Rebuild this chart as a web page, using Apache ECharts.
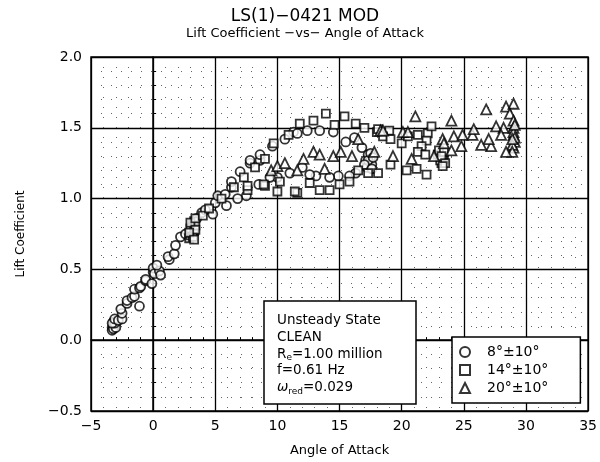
<!DOCTYPE html>
<html>
<head>
<meta charset="utf-8">
<script src="https://cdn.jsdelivr.net/npm/echarts@6/dist/echarts.min.js"></script>
<style>
  html, body { margin: 0; padding: 0; background: #fff; }
  #chart { width: 600px; height: 462px; }
</style>
</head>
<body>
<div id="chart"></div>
<script>
// 坐标轴刻度
const xTicks = [-5, 0, 5, 10, 15, 20, 25, 30, 35];
const yTicks = [-0.5, 0.0, 0.5, 1.0, 1.5, 2.0];

// 图例名称
const seriesNames = ["8°±10°", "14°±10°", "20°±10°"];

// 8°±10° (圆点) [攻角, 升力系数]
const circles8 = [
  [-3.3, 0.09], [-3.2, 0.11], [-3.1, 0.10], [-3.2, 0.13], [-3.0, 0.12],
  [-3.3, 0.07], [-3.2, 0.08], [-3.0, 0.09], [-3.1, 0.12], [-3.3, 0.12],
  [-3.1, 0.15], [-2.8, 0.14], [-2.5, 0.15], [-2.5, 0.19], [-2.6, 0.22],
  [-2.1, 0.26], [-2.1, 0.28], [-1.7, 0.30], [-1.5, 0.31], [-1.1, 0.24],
  [-1.5, 0.36], [-1.1, 0.37], [-1.0, 0.38], [-0.6, 0.42], [-0.6, 0.43],
  [-0.1, 0.40], [0.0, 0.48], [0.0, 0.51], [0.1, 0.47], [0.5, 0.49],
  [0.6, 0.46], [0.3, 0.53], [1.3, 0.57], [1.2, 0.59], [1.7, 0.61],
  [1.8, 0.67], [2.2, 0.73], [2.6, 0.75], [3.5, 0.86], [3.9, 0.90],
  [4.2, 0.92], [5.0, 0.97], [5.2, 1.02], [5.8, 1.03], [6.3, 1.08],
  [6.3, 1.12], [7.0, 1.19], [7.8, 1.25], [8.6, 1.27], [7.8, 1.27],
  [8.6, 1.31], [9.6, 1.37], [10.6, 1.42], [11.3, 1.47], [11.6, 1.46],
  [12.4, 1.48], [13.4, 1.48], [14.5, 1.47], [15.5, 1.40], [16.2, 1.43],
  [16.8, 1.36], [17.1, 1.27], [17.3, 1.31], [17.4, 1.25], [17.2, 1.22],
  [17.5, 1.28], [17.6, 1.24], [17.3, 1.27], [17.5, 1.32], [17.7, 1.29],
  [17.0, 1.24], [17.6, 1.21], [16.3, 1.18], [15.8, 1.16],
  [14.9, 1.16], [14.2, 1.15], [13.1, 1.16], [12.6, 1.17], [12.0, 1.22],
  [11.0, 1.18], [10.0, 1.15], [9.4, 1.15], [8.5, 1.10], [7.5, 1.02],
  [6.8, 1.00], [5.9, 0.95], [4.8, 0.89]
];

// 14°±10° (方块)
const squares14 = [
  [2.9, 0.72], [3.0, 0.74], [3.1, 0.76], [3.1, 0.78], [3.2, 0.80],
  [3.2, 0.82], [3.3, 0.84], [3.0, 0.79], [3.3, 0.77], [3.2, 0.73],
  [3.4, 0.81], [3.0, 0.83], [3.4, 0.78], [2.9, 0.76], [3.3, 0.71],
  [3.4, 0.86], [4.0, 0.88], [4.5, 0.93], [5.5, 1.00], [6.5, 1.08],
  [7.3, 1.15], [8.2, 1.22], [9.0, 1.28], [9.7, 1.39], [10.9, 1.45],
  [11.8, 1.53], [12.9, 1.55], [13.9, 1.60], [15.4, 1.58], [14.6, 1.52],
  [16.3, 1.53], [17.0, 1.50], [18.0, 1.47], [18.1, 1.49], [19.0, 1.48],
  [18.5, 1.44], [19.1, 1.42], [20.0, 1.39], [20.5, 1.44], [21.3, 1.45],
  [22.1, 1.46], [22.4, 1.51], [22.0, 1.41], [21.6, 1.37], [21.3, 1.33],
  [21.9, 1.31], [22.9, 1.31], [23.2, 1.25], [23.4, 1.28], [23.0, 1.34],
  [23.3, 1.29], [23.1, 1.27], [23.4, 1.33], [23.2, 1.30], [23.5, 1.25],
  [23.3, 1.23], [22.0, 1.17], [21.2, 1.21], [20.4, 1.20],
  [19.1, 1.24], [18.1, 1.18], [17.3, 1.18], [16.5, 1.20], [15.8, 1.12],
  [15.0, 1.10], [14.2, 1.06], [13.4, 1.06], [12.6, 1.11], [11.6, 1.04],
  [11.4, 1.05], [10.2, 1.12], [10.0, 1.05], [9.0, 1.09], [8.9, 1.10],
  [7.6, 1.06], [7.6, 1.09]
];

// 20°±10° (三角)
const triangles20 = [
  [9.5, 1.20], [10.0, 1.23], [10.6, 1.25], [11.6, 1.20], [12.1, 1.28],
  [12.9, 1.33], [13.4, 1.31], [13.8, 1.21], [14.5, 1.30], [15.1, 1.33],
  [16.5, 1.42], [18.3, 1.48], [18.5, 1.48], [20.1, 1.47], [20.5, 1.47],
  [21.1, 1.58], [23.3, 1.42], [23.4, 1.39], [24.0, 1.55], [24.2, 1.44],
  [24.9, 1.45], [25.7, 1.45], [25.8, 1.49], [26.8, 1.63], [27.6, 1.51],
  [28.2, 1.50], [28.4, 1.65], [29.0, 1.67], [28.7, 1.60], [29.0, 1.55],
  [28.0, 1.45], [29.0, 1.50], [29.0, 1.45], [29.1, 1.40], [29.0, 1.36],
  [29.0, 1.47], [29.1, 1.43], [28.9, 1.38], [29.1, 1.52], [28.9, 1.42],
  [28.9, 1.33], [28.4, 1.33], [27.2, 1.37], [27.0, 1.42], [26.4, 1.38],
  [24.8, 1.37], [24.0, 1.34], [22.6, 1.30], [20.8, 1.28], [19.3, 1.30],
  [17.8, 1.33], [16.0, 1.30]
];

const chart = echarts.init(document.getElementById("chart"));

const fontFamily = "DejaVu Sans";
const minus = (s) => String(s).replace("-", "−");

const scatterStyle = {
  color: "#fff",
  borderColor: "#000",
  borderWidth: 1.8,
};

const option = {
  animation: false,
  textStyle: { fontFamily: fontFamily, color: "#000" },
  grid: {
    left: 91,
    right: 4,
    top: 57,
    bottom: 46,
    show: true,
    borderColor: "#000",
    borderWidth: 1.5,
  },
  legend: {
    orient: "vertical",
    left: 452,
    top: 337,
    data: seriesNames,
    backgroundColor: "#fff",
    borderColor: "#000",
    borderWidth: 1.5,
    padding: [8, 32, 8, 7],
    itemGap: 4,
    itemWidth: 10,
    itemHeight: 10,
    textStyle: { fontSize: 14, color: "#000", padding: [0, 0, 0, 12] },
  },
  xAxis: {
    type: "value",
    min: xTicks[0],
    max: xTicks[xTicks.length - 1],
    interval: 5,
    name: "Angle of Attack",
    nameLocation: "middle",
    nameGap: 33,
    nameTextStyle: { fontSize: 13, color: "#000" },
    axisLine: { lineStyle: { color: "#000", width: 1.5 } },
    axisTick: { inside: true, length: 5, lineStyle: { color: "#000" } },
    minorTick: { show: true, splitNumber: 5, length: 3, lineStyle: { color: "#000" } },
    axisLabel: { fontSize: 14, color: "#000", margin: 8, formatter: (v) => minus(v) },
    splitLine: { lineStyle: { color: "#000", width: 1.3 } },
    minorSplitLine: {
      show: true,
      lineStyle: { color: "#000", width: 1, type: [1, 9], opacity: 0.6 },
    },
  },
  yAxis: {
    type: "value",
    min: yTicks[0],
    max: yTicks[yTicks.length - 1],
    interval: 0.5,
    name: "Lift Coefficient",
    nameLocation: "middle",
    nameGap: 64,
    nameTextStyle: { fontSize: 12, color: "#000" },
    axisLine: { lineStyle: { color: "#000", width: 1.5 } },
    axisTick: { inside: true, length: 5, lineStyle: { color: "#000" } },
    minorTick: { show: true, splitNumber: 5, length: 3, lineStyle: { color: "#000" } },
    axisLabel: { fontSize: 14, color: "#000", margin: 9, formatter: (v) => minus(v.toFixed(1)) },
    splitLine: { lineStyle: { color: "#000", width: 1.3 } },
    minorSplitLine: {
      show: true,
      lineStyle: { color: "#000", width: 1, type: [1, 9], opacity: 0.6 },
    },
  },
  series: [
    {
      name: seriesNames[0],
      type: "scatter",
      symbol: "circle",
      symbolSize: 9,
      itemStyle: scatterStyle,
      data: circles8,
    },
    {
      name: seriesNames[1],
      type: "scatter",
      symbol: "rect",
      symbolSize: 8,
      itemStyle: scatterStyle,
      data: squares14,
    },
    {
      name: seriesNames[2],
      type: "scatter",
      symbol: "triangle",
      symbolSize: 10,
      itemStyle: scatterStyle,
      data: triangles20,
    },
  ],
  graphic: [
    // 标题
    {
      type: "text",
      x: 305,
      y: 8,
      z: 100,
      style: { text: "LS(1)−0421 MOD", fontSize: 17, fontFamily: fontFamily, fill: "#000", align: "center" },
    },
    {
      type: "text",
      x: 305,
      y: 27,
      z: 100,
      style: { text: "Lift Coefficient −vs− Angle of Attack", fontSize: 13, fontFamily: fontFamily, fill: "#000", align: "center" },
    },
    // 试验条件说明框
    {
      type: "rect",
      x: 264,
      y: 301,
      z: 100,
      shape: { x: 0, y: 0, width: 152, height: 103 },
      style: { fill: "#fff", stroke: "#000", lineWidth: 1.5 },
    },
    {
      type: "text",
      x: 277,
      y: 312,
      z: 101,
      style: {
        text: "Unsteady State\nCLEAN\nR{sub|e}=1.00 million\nf=0.61 Hz\n{w|ω}{sub|red}=0.029",
        fontSize: 13.5,
        lineHeight: 16.8,
        fontFamily: fontFamily,
        fill: "#000",
        rich: {
          sub: { fontSize: 9, verticalAlign: "bottom", lineHeight: 16.8, fontFamily: fontFamily, fill: "#000", padding: [4, 0, 0, 0] },
          w: { fontSize: 13.5, fontStyle: "italic", lineHeight: 16.8, fontFamily: fontFamily, fill: "#000" },
        },
      },
    },
  ],
};

chart.setOption(option);
</script>
</body>
</html>
